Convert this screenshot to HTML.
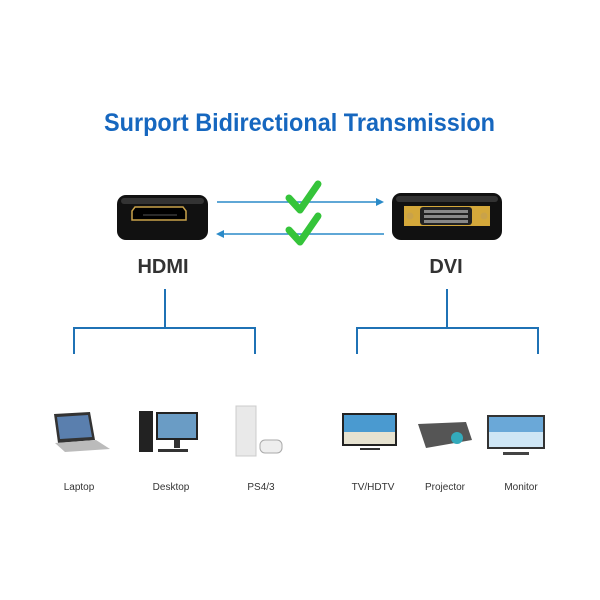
<!DOCTYPE html>
<html><head><style>html,body{margin:0;padding:0;background:#fff}svg{display:block}</style></head>
<body>
<svg width="600" height="600" viewBox="0 0 600 600" xmlns="http://www.w3.org/2000/svg" font-family="Liberation Sans, Arial, sans-serif">
<rect width="600" height="600" fill="#fff"/>
<text x="104" y="131" font-size="25" font-weight="bold" fill="#1667bf" textLength="391" lengthAdjust="spacingAndGlyphs">Surport Bidirectional Transmission</text>
<!-- HDMI -->
<rect x="117" y="195" width="91" height="45" rx="9" fill="#111"/>
<rect x="121" y="198" width="83" height="6" rx="3" fill="#333"/>
<path d="M135 207 H183 L186 211 V220 H132 V211 Z" fill="#000" stroke="#c9a24a" stroke-width="1.5"/>
<line x1="143" y1="215" x2="177" y2="215" stroke="#555" stroke-width="1"/>
<!-- DVI -->
<rect x="392" y="193" width="110" height="47" rx="9" fill="#111"/>
<rect x="396" y="196" width="102" height="6" rx="3" fill="#333"/>
<rect x="404" y="206" width="86" height="20" fill="#d4a83a"/>
<rect x="420" y="207" width="52" height="18" rx="3" fill="#222"/>
<g fill="#c9a24a"><circle cx="410" cy="216" r="3.5"/><circle cx="484" cy="216" r="3.5"/></g>
<g fill="#888"><rect x="424" y="210" width="44" height="3"/><rect x="424" y="215" width="44" height="3"/><rect x="424" y="220" width="44" height="3"/></g>
<!-- arrows -->
<g stroke="#2a8ac8" stroke-width="1.5" fill="#2a8ac8">
<line x1="217" y1="202" x2="378" y2="202"/><path d="M384 202 L376 198 L376 206 Z" stroke="none"/>
<line x1="222" y1="234" x2="384" y2="234"/><path d="M216 234 L224 230 L224 238 Z" stroke="none"/>
</g>
<g fill="none" stroke="#35c43a" stroke-width="7" stroke-linejoin="round" stroke-linecap="round">
<path d="M289 198 L300 210 L318 184"/>
<path d="M289 230 L300 242 L318 216"/>
</g>
<text x="163" y="273" font-size="20" font-weight="bold" fill="#333" text-anchor="middle">HDMI</text>
<text x="446" y="273" font-size="20" font-weight="bold" fill="#333" text-anchor="middle">DVI</text>
<!-- trees -->
<g stroke="#1f72b5" stroke-width="2" fill="none">
<path d="M165 289 V328 M74 354 V328 H255 V354"/>
<path d="M447 289 V328 M357 354 V328 H538 V354"/>
</g>
<!-- devices -->
<path d="M54 414 L90 412 L95 440 L58 443 Z" fill="#333"/><path d="M57 417 L88 415 L92 437 L60 439 Z" fill="#5a7fae"/>
<path d="M55 443 L96 440 L110 449 L65 452 Z" fill="#bbb"/>
<rect x="139" y="411" width="14" height="41" fill="#222"/>
<rect x="156" y="412" width="42" height="28" fill="#222"/><rect x="158" y="414" width="38" height="24" fill="#6a9cc5"/>
<rect x="174" y="440" width="6" height="8" fill="#333"/><rect x="158" y="449" width="30" height="3" fill="#333"/>
<rect x="236" y="406" width="20" height="50" fill="#e9e9e9" stroke="#ccc"/>
<rect x="260" y="440" width="22" height="13" rx="5" fill="#eee" stroke="#aaa"/>
<rect x="342" y="413" width="55" height="33" fill="#222"/><rect x="344" y="415" width="51" height="29" fill="#4a9ad0"/><rect x="344" y="432" width="51" height="12" fill="#e6e2d0"/>
<rect x="360" y="448" width="20" height="2" fill="#333"/>
<path d="M418 424 L466 422 L472 440 L426 448 Z" fill="#555"/><circle cx="457" cy="438" r="6" fill="#3ab"/>
<rect x="487" y="415" width="58" height="34" fill="#333"/><rect x="489" y="417" width="54" height="30" fill="#6aa8d8"/><rect x="489" y="432" width="54" height="15" fill="#cfe6f5"/>
<rect x="503" y="452" width="26" height="3" fill="#444"/>
<g font-size="10" fill="#333" text-anchor="middle">
<text x="79" y="490">Laptop</text><text x="171" y="490">Desktop</text><text x="261" y="490">PS4/3</text>
<text x="373" y="490">TV/HDTV</text><text x="445" y="490">Projector</text><text x="521" y="490">Monitor</text>
</g>
</svg>
</body></html>
